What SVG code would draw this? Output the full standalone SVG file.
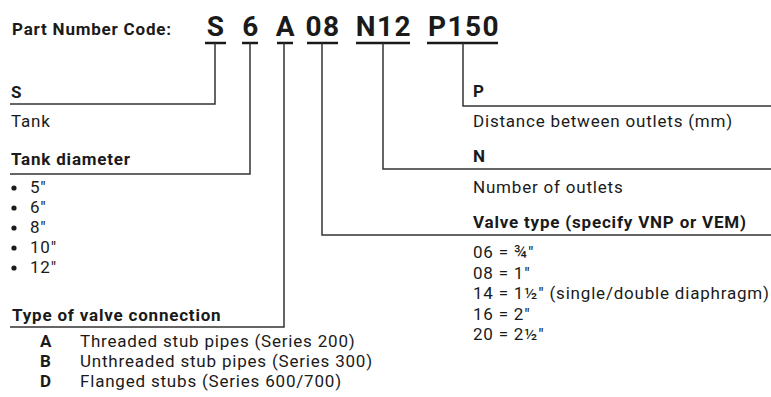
<svg xmlns="http://www.w3.org/2000/svg" width="771" height="397" viewBox="0 0 771 397">
<style>
text{font-family:Roboto,"Open Sans","DejaVu Sans",sans-serif;fill:#1a1a1a}
.t{font-size:17px;letter-spacing:0.8px}
.b{font-size:17px;font-weight:700;letter-spacing:0.8px}
.code{font-size:28px;font-weight:700;letter-spacing:1.5px;text-anchor:middle}
.ln{stroke:#333;stroke-width:1.5;fill:none}
.ul{stroke:#1a1a1a;stroke-width:2.5}
.dot{fill:#1a1a1a}
</style>
<rect width="771" height="397" fill="#fff"/>
<g id="title"><text class="b" x="12" y="35">Part Number Code:</text></g>
<g id="code">
<text class="code" x="216" y="36">S</text>
<text class="code" x="251" y="36">6</text>
<text class="code" x="286" y="36">A</text>
<text class="code" x="323" y="36">08</text>
<text class="code" x="384" y="36">N12</text>
<text class="code" x="464" y="36">P150</text>
<line class="ul" x1="205" y1="43" x2="226" y2="43"/>
<line class="ul" x1="242" y1="43" x2="258" y2="43"/>
<line class="ul" x1="277" y1="43" x2="293" y2="43"/>
<line class="ul" x1="307" y1="43" x2="338" y2="43"/>
<line class="ul" x1="356" y1="43" x2="410" y2="43"/>
<line class="ul" x1="427" y1="43" x2="498" y2="43"/>
</g>
<g id="connectors">
<polyline class="ln" points="215,43 215,104 10,104"/>
<polyline class="ln" points="250,43 250,174 10,174"/>
<polyline class="ln" points="284,43 284,327 10,327"/>
<polyline class="ln" points="322,43 322,235 771,235"/>
<polyline class="ln" points="383,43 383,169 771,169"/>
<polyline class="ln" points="463,43 463,106 771,106"/>
</g>
<g id="node-s">
<text class="b" x="11" y="98">S</text>
<text class="t" x="11" y="127">Tank</text>
</g>
<g id="node-diameter">
<text class="b" x="11" y="165">Tank diameter</text>
<circle class="dot" cx="14" cy="188" r="2.6"/><text class="t" x="30" y="193">5″</text>
<circle class="dot" cx="14" cy="208" r="2.6"/><text class="t" x="30" y="213">6″</text>
<circle class="dot" cx="14" cy="228" r="2.6"/><text class="t" x="30" y="233">8″</text>
<circle class="dot" cx="14" cy="248" r="2.6"/><text class="t" x="30" y="253">10″</text>
<circle class="dot" cx="14" cy="268" r="2.6"/><text class="t" x="30" y="273">12″</text>
</g>
<g id="node-connection">
<text class="b" x="12" y="321">Type of valve connection</text>
<text class="b" x="40" y="347">A</text><text class="t" x="80" y="347">Threaded stub pipes (Series 200)</text>
<text class="b" x="40" y="367">B</text><text class="t" x="80" y="367">Unthreaded stub pipes (Series 300)</text>
<text class="b" x="40" y="387">D</text><text class="t" x="80" y="387">Flanged stubs (Series 600/700)</text>
</g>
<g id="node-p">
<text class="b" x="473" y="97">P</text>
<text class="t" x="473" y="127">Distance between outlets (mm)</text>
</g>
<g id="node-n">
<text class="b" x="473" y="162">N</text>
<text class="t" x="473" y="193">Number of outlets</text>
</g>
<g id="node-valve">
<text class="b" x="473" y="228">Valve type (specify VNP or VEM)</text>
<text class="t" x="473" y="258">06 = ¾″</text>
<text class="t" x="473" y="278.5">08 = 1″</text>
<text class="t" x="473" y="299">14 = 1½″ (single/double diaphragm)</text>
<text class="t" x="473" y="319.5">16 = 2″</text>
<text class="t" x="473" y="340">20 = 2½″</text>
</g>
</svg>
